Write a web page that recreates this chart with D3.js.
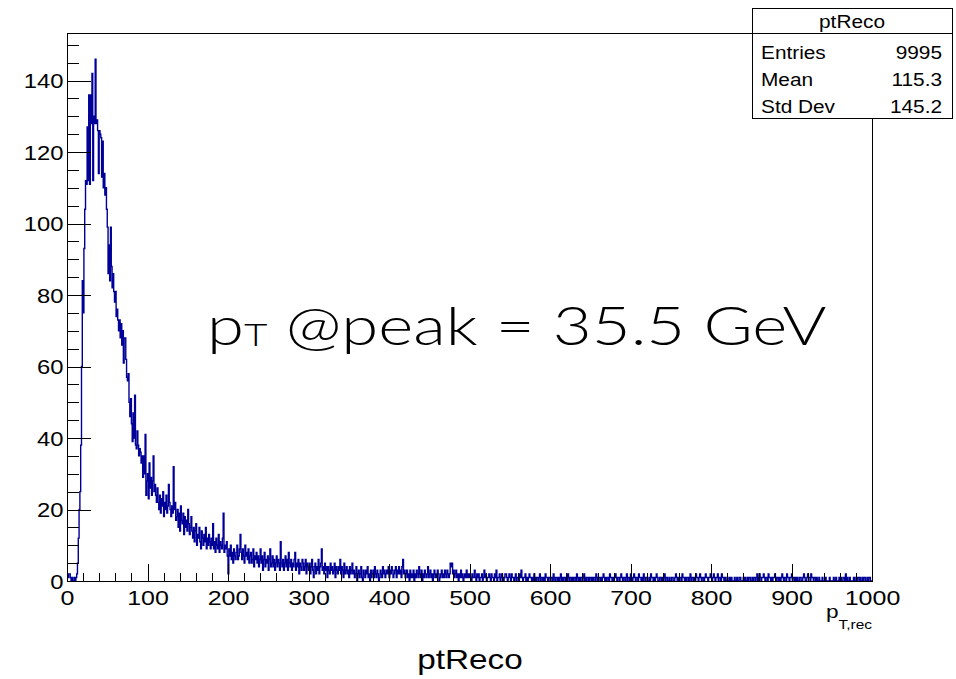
<!DOCTYPE html>
<html lang="en">
<head>
<meta charset="utf-8">
<title>ptReco</title>
<script src="https://cdn.jsdelivr.net/npm/d3@7"></script>
<style>
body { margin: 0; background: #fff; }
svg { font-family: "Liberation Sans", Arial, Helvetica, sans-serif; }
.axis path.domain { display: none; }
.axis line { stroke: #000; stroke-width: 1px; shape-rendering: crispEdges; }
.axis text { fill: #000; }
.frame { fill: none; stroke: #000; stroke-width: 1px; shape-rendering: crispEdges; }
.hist { fill: none; stroke: #000099; stroke-width: 1.4px; }
.stats rect, .stats line { fill: #fff; stroke: #000; stroke-width: 1px; shape-rendering: crispEdges; }
.stats text { font-size: 17.5px; fill: #000; }
</style>
</head>
<body>
<svg id="chart" width="956" height="679"></svg>
<script>
// bin contents, 1 GeV bins from 0 to 1000
var countsLow = [
  2,1,2,2,1,0,1,0,0,1,
  0,1,2,5,12,20,25,38,60,84,
  75,93,104,112,111,127,112,136,111,136,
  128,142,112,130,128,146,128,129,126,114,
  126,125,124,113,123,110,114,108,110,104,
  99,86,94,84,99,88,82,86,81,78,
  81,74,76,73,70,73,68,72,66,70,
  61,68,68,62,57,56,58,50,46,51,
  44,39,47,40,52,38,37,42,38,35,
  37,36,33,35,29,35,30,41,24,28
];
var countsMid = [
  30,23,33,26,29,24,28,35,25,27,
  24,22,26,22,20,24,19,23,21,25,
  18,22,20,24,19,21,27,22,20,18,
  21,19,32,20,22,17,18,20,15,19,
  14,21,17,16,19,13,18,15,17,14,
  20,16,13,15,18,14,12,15,11,14,
  16,10,13,12,15,11,9,14,12,10,
  13,11,15,9,12,10,13,11,9,12,
  10,16,9,11,8,12,10,9,13,8,
  11,10,9,12,19,8,10,9,11,7
];
var countsTail1 = [
  2,9,7,10,6,8,5,9,7,6,
  8,10,6,7,9,13,8,6,9,7,
  5,10,7,8,6,9,5,7,8,5,
  6,9,4,7,6,8,5,7,4,6,
  9,5,7,3,6,8,4,6,5,7,
  3,6,9,4,5,7,4,6,3,5,
  7,4,6,5,3,11,5,4,6,3,
  5,7,4,6,3,8,5,4,6,3,
  5,4,6,8,3,5,4,6,2,5,
  4,3,6,5,3,4,6,2,5,4
];
var countsTail2 = [
  3,5,2,4,6,3,1,4,5,2,
  4,3,6,2,4,5,9,3,4,2,
  5,3,4,1,4,3,2,5,3,4,
  2,3,5,1,4,3,2,4,3,6,
  2,4,3,1,5,2,3,4,2,3,
  1,4,2,3,5,2,3,1,2,4,
  0,2,3,1,2,4,1,0,3,2,
  1,3,2,4,1,2,0,3,1,2,
  3,1,4,2,1,3,2,0,1,3,
  2,1,4,2,3,1,2,3,2,4
];
var countsTail3 = [
  1,3,2,4,3,1,2,3,4,1,
  3,2,4,2,3,1,4,6,2,3,
  1,2,3,1,2,0,3,1,2,1,
  3,0,2,1,3,2,1,4,2,1,
  3,0,2,1,3,2,1,2,4,1,
  2,3,1,2,0,2,3,1,2,1,
  3,2,0,1,2,3,1,2,1,3,
  2,1,3,2,1,2,5,4,5,2,
  3,1,2,3,1,2,0,2,1,3,
  1,2,0,1,2,1,3,1,2,1
];
var countsTail4 = [
  2,1,0,2,1,1,3,1,0,2,
  1,2,0,1,1,2,0,1,3,1,
  2,0,1,1,2,1,0,2,1,1,
  0,2,1,3,0,1,1,2,0,1,
  2,1,0,1,2,2,1,0,1,2,
  1,0,2,1,1,0,1,2,0,1,
  1,0,2,1,3,1,0,1,1,2,
  0,1,0,1,2,1,1,0,1,0,
  2,1,0,1,1,0,1,2,0,1,
  1,0,1,0,2,1,1,0,1,1,
  0,1,1,0,2,1,0,1,1,0,
  1,0,1,2,0,1,0,1,1,0,
  1,0,2,1,0,1,1,0,1,0,
  1,1,0,2,1,0,1,0,1,1,
  0,1,2,0,1,0,1,1,0,1,
  1,0,1,0,1,1,0,2,1,0,
  1,1,0,1,0,1,2,1,0,1,
  0,1,1,0,2,1,1,0,1,0,
  1,2,1,0,1,1,0,1,2,1,
  0,1,1,0,1,2,0,1,1,0,
  2,1,0,1,2,1,0,1,1,0,
  2,1,1,0,1,0,2,1,0,1,
  1,0,0,1,0,2,1,1,0,1,
  0,1,2,1,0,0,1,1,0,1,
  0,1,2,0,1,1,0,0,1,0
];
var countsTail5 = [
  0,1,1,0,0,1,2,1,0,1,
  0,1,1,0,2,1,1,0,1,0,
  1,1,0,1,2,0,1,1,0,1,
  0,2,1,1,0,1,2,1,0,1,
  1,0,1,2,1,1,0,1,1,2,
  1,0,1,2,1,0,1,1,2,0,
  1,1,0,2,1,1,0,1,0,0,
  1,0,0,1,0,1,0,0,0,1,
  0,0,1,0,0,1,1,0,0,0,
  1,0,1,0,0,1,0,1,1,0,
  0,1,0,1,1,0,1,2,0,1,
  2,1,0,1,1,2,1,0,1,1,
  0,2,1,1,0,1,0,1,1,2,
  1,0,1,1,0,1,0,1,2,1,
  0,1,1,0,2,1,1,0,1,1,
  2,0,1,1,0,1,0,1,0,0,
  1,1,0,0,1,2,1,0,0,1,
  2,1,1,0,2,1,1,0,1,1,
  0,1,0,0,1,0,0,0,1,0,
  0,0,1,0,0,0,0,1,0,0,
  0,0,1,0,0,1,0,0,0,1,
  0,1,0,0,1,1,0,2,0,1,
  0,0,1,0,0,0,0,1,0,0,
  1,0,1,1,0,1,0,0,1,0,
  1,1,0,0,1,0,1,1,0,0
];

var yMajorTicks = [0, 20, 40, 60, 80, 100, 120, 140];
var xMajorTicks = [0, 100, 200, 300, 400, 500, 600, 700, 800, 900, 1000];
var statsTitle = "ptReco";
var statsRows = [["Entries", "9995"], ["Mean", "115.3"], ["Std Dev", "145.2"]];
var xTitle = "ptReco";
var peakLabel = " @peak = 35.5 GeV";

var counts = countsLow.concat(countsMid, countsTail1, countsTail2, countsTail3, countsTail4, countsTail5);
var binWidth = 1000 / counts.length;

// the picture is a bit wider than tall, text is squeezed accordingly
var SX = 1.19;

var svg = d3.select("#chart");
var frameL = 67, frameR = 872, frameT = 33, frameB = 581;

var x = d3.scaleLinear().domain([0, 1000]).range([frameL, frameR]);
var y = d3.scaleLinear().domain([0, d3.max(counts) * 1.05]).range([frameB, frameT]);

function stretch(sel) {
  sel.each(function() {
    var t = d3.select(this);
    var tx = +t.attr("x") || 0, ty = +t.attr("y") || 0;
    t.attr("x", 0).attr("y", 0)
      .attr("transform", "translate(" + tx + "," + ty + ") scale(" + SX + ",1)");
  });
}

// histogram
var pts = counts.map(function(c, i) { return [i * binWidth, c]; });
pts.push([1000, counts[counts.length - 1]]);
var line = d3.line()
  .x(function(d) { return x(d[0]); })
  .y(function(d) { return y(d[1]); })
  .curve(d3.curveStepAfter);
svg.append("path").attr("class", "hist").attr("d", line(pts));

// y axis
var yMinor = d3.range(0, 155, 5).filter(function(v) { return v % 20 !== 0 && y(v) >= frameT; });
svg.append("g").attr("class", "axis")
  .attr("transform", "translate(" + frameL + ",0)")
  .call(d3.axisLeft(y).tickValues(yMinor).tickSizeInner(-12).tickSizeOuter(0).tickFormat(""));
var yAx = svg.append("g").attr("class", "axis")
  .attr("transform", "translate(" + frameL + ",0)")
  .call(d3.axisLeft(y).tickValues(yMajorTicks).tickSizeInner(-24).tickSizeOuter(0)
    .tickPadding(3.5).tickFormat(d3.format("d")));
yAx.selectAll("text").attr("font-size", 20).attr("dy", null).attr("y", 7.2);
stretch(yAx.selectAll("text"));

// x axis
var xMinor = d3.range(0, 1001, 20).filter(function(v) { return v % 100 !== 0; });
svg.append("g").attr("class", "axis")
  .attr("transform", "translate(0," + frameB + ")")
  .call(d3.axisBottom(x).tickValues(xMinor).tickSizeInner(-8).tickSizeOuter(0).tickFormat(""));
var xAx = svg.append("g").attr("class", "axis")
  .attr("transform", "translate(0," + frameB + ")")
  .call(d3.axisBottom(x).tickValues(xMajorTicks).tickSizeInner(-17).tickSizeOuter(0)
    .tickFormat(d3.format("d")));
xAx.selectAll("text").attr("font-size", 21).attr("dy", null).attr("y", 24);
stretch(xAx.selectAll("text"));

// frame
svg.append("rect").attr("class", "frame")
  .attr("x", frameL).attr("y", frameT).attr("width", frameR - frameL).attr("height", frameB - frameT);

// axis title p_T,rec
var at = svg.append("text").attr("x", frameR).attr("y", 617.5)
  .attr("text-anchor", "end").attr("font-size", 19);
at.append("tspan").text("p");
at.append("tspan").attr("font-size", 13).attr("dy", 12).text("T,rec");
stretch(at);

// title under the axis
var tt = svg.append("text").attr("x", 470).attr("y", 669)
  .attr("text-anchor", "middle").attr("font-size", 28).text(xTitle);
stretch(tt);

// stats box
var sb = svg.append("g").attr("class", "stats");
sb.append("rect").attr("x", 752).attr("y", 8.5).attr("width", 200).attr("height", 110);
sb.append("line").attr("x1", 752).attr("x2", 952).attr("y1", 33.5).attr("y2", 33.5);
stretch(sb.append("text").attr("x", 852).attr("y", 28.3).attr("text-anchor", "middle").text(statsTitle));
statsRows.forEach(function(r, i) {
  var yy = 59.3 + i * 26.7;
  stretch(sb.append("text").attr("x", 761).attr("y", yy).text(r[0]));
  stretch(sb.append("text").attr("x", 942).attr("y", yy).attr("text-anchor", "end").text(r[1]));
});

// big annotation
var note = svg.append("text").attr("font-family", "Lato, 'Open Sans', sans-serif")
  .attr("font-size", 53).attr("font-weight", 300).attr("fill", "#000");
note.append("tspan").text("p");
note.append("tspan").attr("font-size", 32).attr("dy", 1).text("T");
note.append("tspan").attr("dy", -1).text(peakLabel);
var nb = note.node().getBBox();
var ns = 620 / nb.width;
note.attr("transform", "translate(" + (207 - nb.x * ns) + ",345) scale(" + ns + ",1)");
</script>
</body>
</html>
